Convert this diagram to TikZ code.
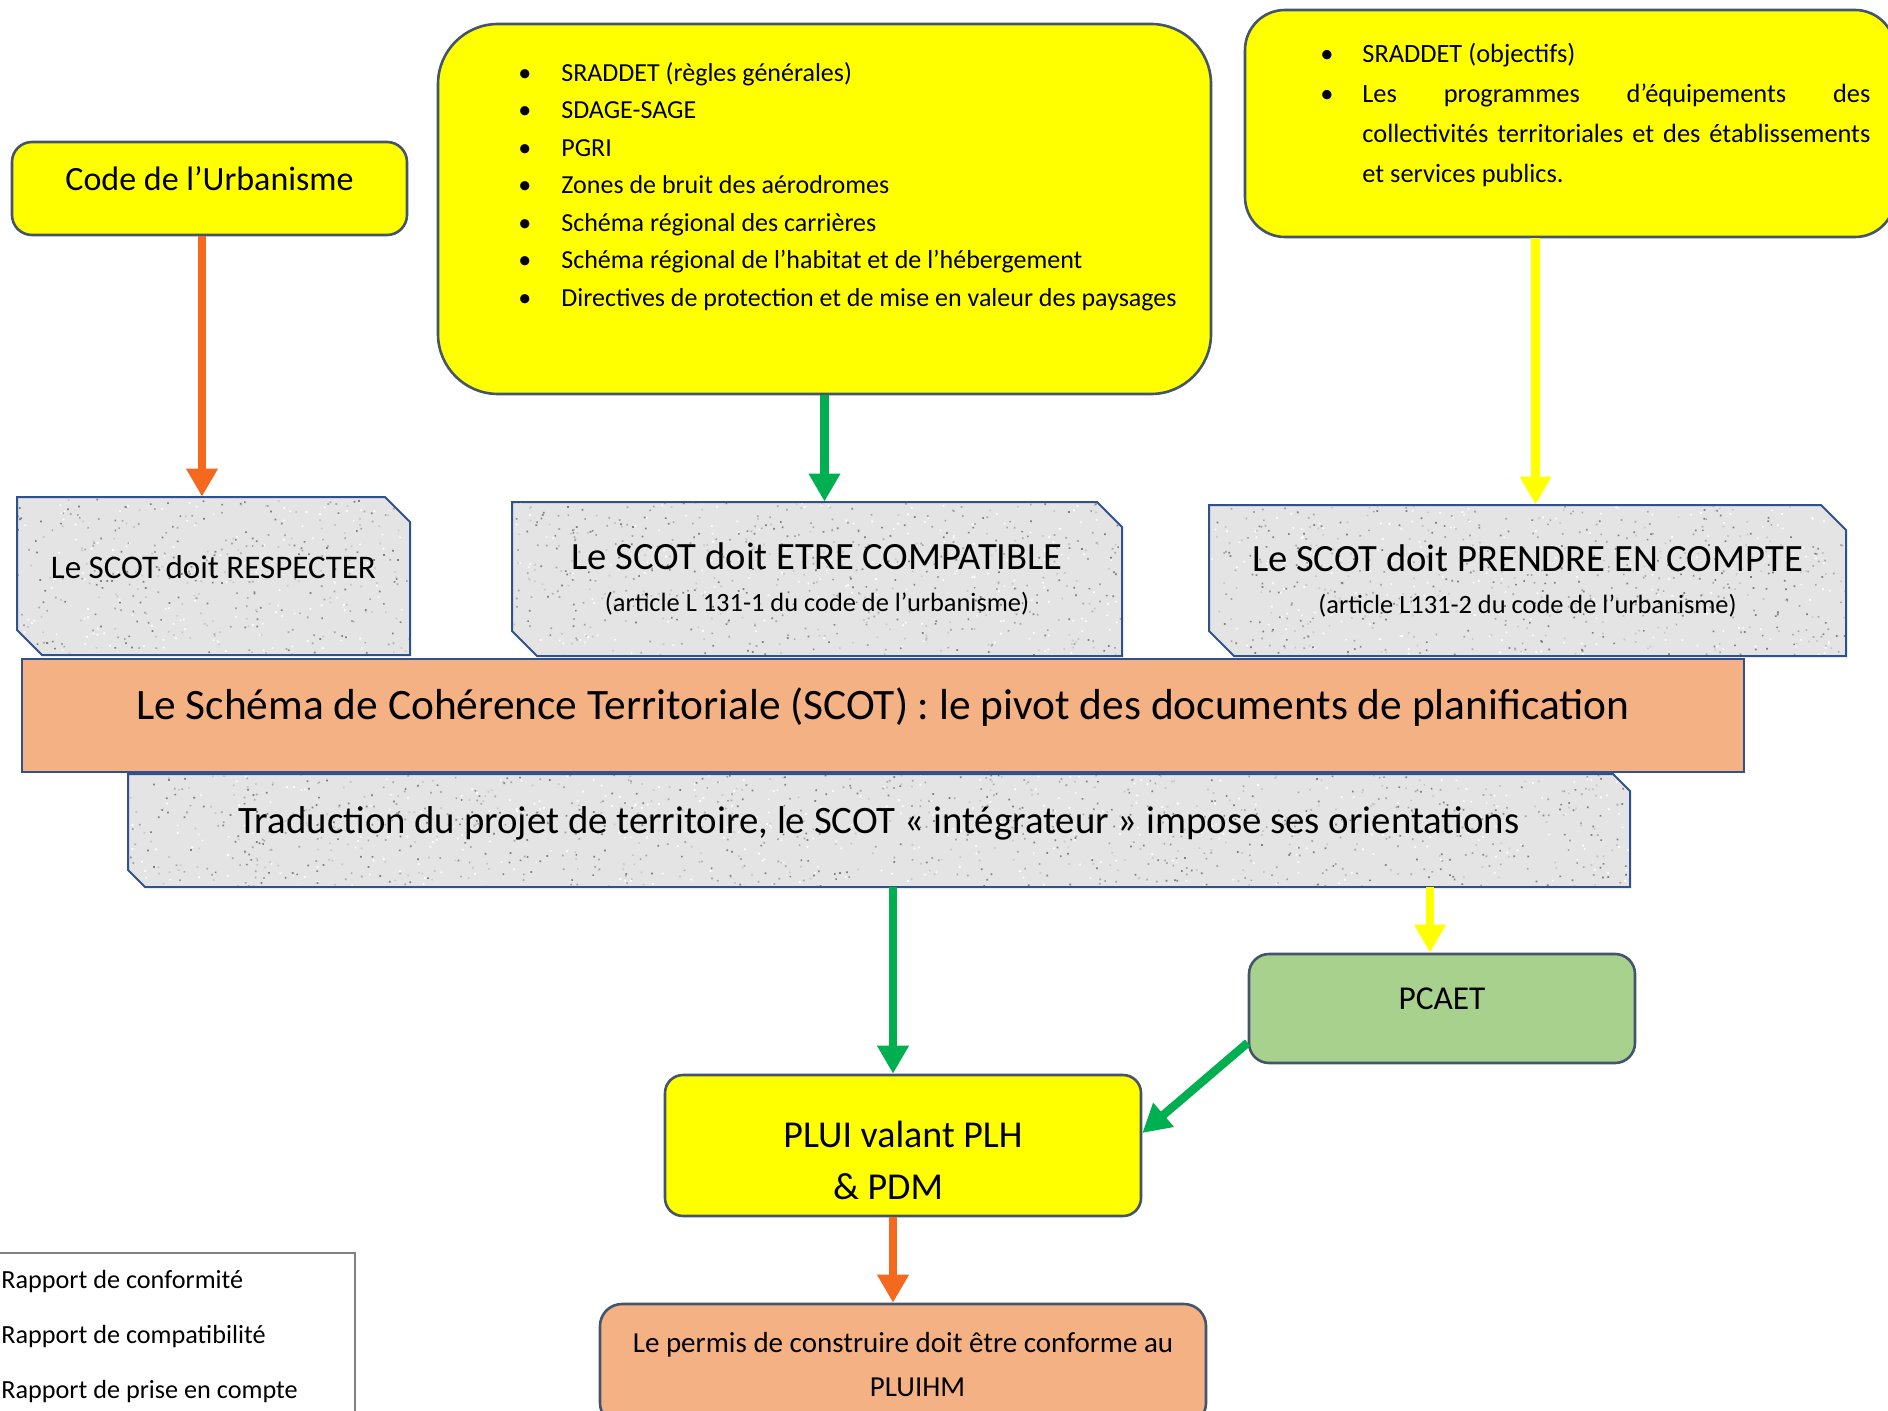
\documentclass[tikz,border=0pt]{standalone}
\usepackage{fontspec}
\setmainfont{Carlito}
\usetikzlibrary{arrows.meta}

\definecolor{jaune}{RGB}{255,255,0}
\definecolor{saumon}{RGB}{244,177,131}
\definecolor{vert}{RGB}{169,209,142}
\definecolor{bord}{RGB}{68,84,106}
\definecolor{bleu}{RGB}{47,82,143}
\definecolor{granit}{RGB}{228,228,228}
\definecolor{gris}{RGB}{128,128,128}
\definecolor{flor}{RGB}{245,105,30}
\definecolor{flvert}{RGB}{0,176,80}
\definecolor{fljaune}{RGB}{255,255,0}

\newcommand\taille[2]{\fontsize{#1}{#2}\selectfont}
\newcommand\puce[1]{\makebox[#1][l]{\textbullet}}
% plaque chanfreinee et granitee : x1, y1, x2, y2, chanfrein
\newcommand\plaque[5]{%
  \begin{scope}
    \clip (#1,#2) -- (#3-#5,#2) -- (#3,#2+#5) -- (#3,#4) -- (#1+#5,#4) -- (#1,#4-#5) -- cycle;
    \fill[granit] (#1,#2) rectangle (#3,#4);
    \pgfmathtruncatemacro\nbgrains{((#3-#1)/20)*((#4-#2)/25)}
    \foreach \teinte in {white,black!22,black!35,black!50}
      \fill[\teinte] foreach \i in {1,...,\nbgrains} {({#1+rnd*(#3-#1)},{#2+rnd*(#4-#2)}) rectangle ++(1.7,1.7)};
  \end{scope}
  \draw[plaque] (#1,#2) -- (#3-#5,#2) -- (#3,#2+#5) -- (#3,#4) -- (#1+#5,#4) -- (#1,#4-#5) -- cycle;}

\begin{document}
\begin{tikzpicture}[x=0.5pt, y=-0.5pt,
    boite/.style={draw=bord, line width=1.3pt, rounded corners=#1},
    boite/.default=10pt,
    plaque/.style={draw=bleu, line width=1pt},
    fleche/.style={line width=4.2pt, -{Triangle[width=15pt,length=14pt]}}]
  \useasboundingbox (0,0) rectangle (1888,1411);
  \clip (0,0) rectangle (1888,1411);
  \pgfmathsetseed{17}

  % documents de rang superieur
  \node[boite, fill=jaune, minimum width=197.5pt, minimum height=46.5pt, text height=12.75pt, text depth=10.85pt, font=\taille{17}{20}] (code) at (209.5,188.5) {Code de l’Urbanisme};
  \node[boite=30pt, fill=jaune, minimum width=386.5pt, minimum height=185pt] (regles) at (824.5,209) {};
  \node[anchor=north west, inner sep=0pt, align=left, font=\taille{13}{18.75}] (reglestxt) at (518,62)
    {\puce{21.5pt}SRADDET (règles générales)\\
     \puce{21.5pt}SDAGE-SAGE\\
     \puce{21.5pt}PGRI\\
     \puce{21.5pt}Zones de bruit des aérodromes\\
     \puce{21.5pt}Schéma régional des carrières\\
     \puce{21.5pt}Schéma régional de l’habitat et de l’hébergement\\
     \puce{21.5pt}Directives de protection et de mise en valeur des paysages};
  \node[boite=20pt, fill=jaune, minimum width=325pt, minimum height=113.5pt] (objectifs) at (1570,123.5) {};
  \node[anchor=north west, inner sep=0pt, text width=254pt, align=justify, font=\taille{13.2}{20}] (objtxt) at (1362,43)
    {\llap{\puce{21pt}}SRADDET (objectifs)\\
     \llap{\puce{21pt}}Les programmes d’équipements des\linebreak
     collectivités territoriales et des établissements\linebreak
     et services publics.};

  % les trois rapports
  \plaque{17}{497}{410}{655}{25}
  \plaque{512}{502}{1122}{656}{25}
  \plaque{1209}{505}{1846}{656}{25}
  \node[minimum width=196.5pt, minimum height=79pt, text depth=9pt, font=\taille{16.5}{20}] (respecter) at (213.5,576) {Le SCOT doit RESPECTER};
  \node[minimum width=305pt, minimum height=77pt, align=center, font=\taille{19.3}{21}] (compatible) at (817,579)
    {Le SCOT doit ETRE COMPATIBLE\\{\taille{13.2}{15}(article L 131-1 du code de l’urbanisme)}};
  \node[minimum width=318.5pt, minimum height=75.5pt, align=center, font=\taille{19.3}{21}] (prendre) at (1527.5,580.5)
    {Le SCOT doit PRENDRE EN COMPTE\\{\taille{13.2}{15}(article L131-2 du code de l’urbanisme)}};

  % le SCOT
  \node[fill=saumon, draw=bleu, line width=1.2pt, minimum width=861pt, minimum height=56.5pt, text height=16pt, text depth=12pt, font=\taille{21.7}{24}] (scot) at (883,715.5)
    {Le Schéma de Cohérence Territoriale (SCOT) : le pivot des documents de planification};
  \plaque{128}{774}{1630}{887}{17}
  \node[minimum width=751pt, minimum height=56.5pt, text height=15pt, text depth=12pt, font=\taille{19.4}{22}] (traduction) at (879,830.5)
    {Traduction du projet de territoire, le SCOT « intégrateur » impose ses orientations};

  % documents de rang inferieur
  \node[boite, fill=vert, minimum width=193pt, minimum height=54.5pt, text depth=10pt, font=\taille{16.7}{20}] (pcaet) at (1442,1008.5) {PCAET};
  \node[boite=9pt, fill=jaune, minimum width=238pt, minimum height=70.5pt, text height=31pt, text depth=5.2pt, font=\taille{19}{26}] (plui) at (903,1145.5)
    {\begin{tabular}{@{}c@{}}PLUI valant PLH\\\& PDM\hspace*{15pt}\end{tabular}};
  \node[boite=11pt, fill=saumon, minimum width=303pt, minimum height=60.5pt, align=center, font=\taille{14.5}{21.75}] (permis) at (903,1364.5)
    {Le permis de construire doit être conforme au\\\hspace*{14.5pt}PLUIHM};

  % legende
  \node[draw=gris, line width=0.8pt, minimum width=179.5pt, minimum height=85pt, anchor=north west] (legende) at (-5,1252) {};
  \node[anchor=north west, inner sep=0pt, align=left, font=\taille{13.1}{27.4}] (legtxt) at (1,1270)
    {Rapport de conformité\\Rapport de compatibilité\\Rapport de prise en compte};

  % fleches
  \draw[fleche, flor] ([xshift=-3.75pt]code.south) -- ([xshift=-3.75pt]code.south |- respecter.north);
  \draw[fleche, flvert] (regles.south) -- (regles.south |- compatible.north);
  \draw[fleche, fljaune] ([xshift=4pt]prendre.north |- objectifs.south) -- ([xshift=4pt]prendre.north);
  \draw[fleche, flvert] ([xshift=-5pt]plui.north |- traduction.south) -- ([xshift=-5pt]plui.north);
  \draw[fleche, fljaune] ([xshift=-6pt]pcaet.north |- traduction.south) -- ([xshift=-6pt]pcaet.north);
  \draw[fleche, flvert] (pcaet.190) -- (plui.3);
  \draw[fleche, flor] ([xshift=-5pt]plui.south) -- ([xshift=-5pt]permis.north);
\end{tikzpicture}
\end{document}
